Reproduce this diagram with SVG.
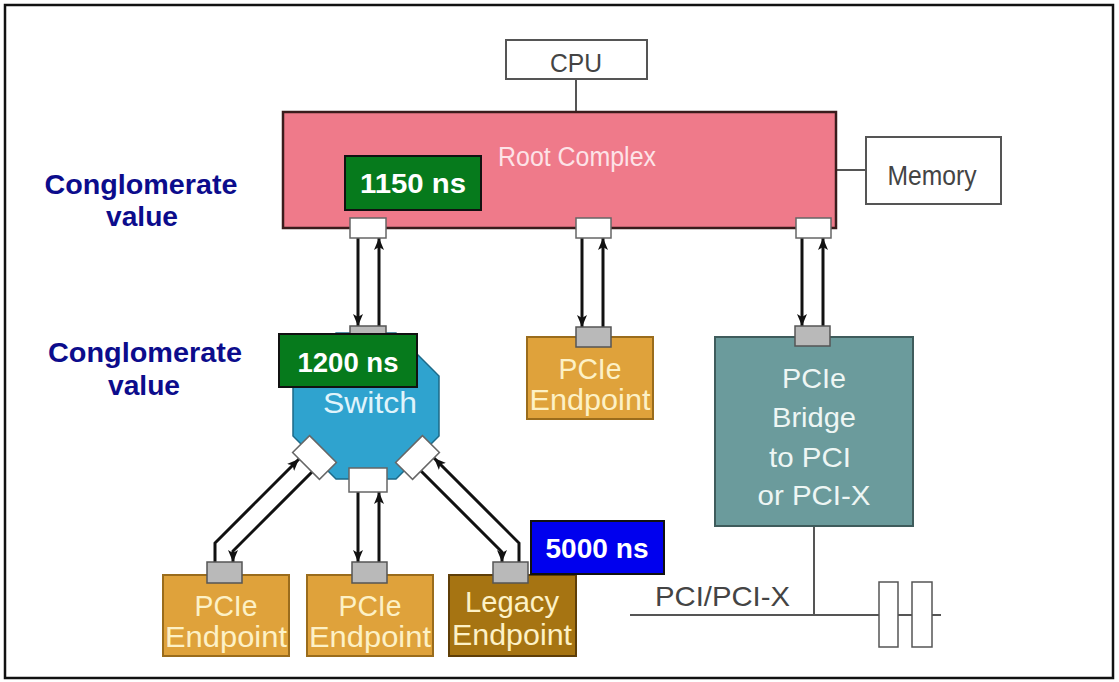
<svg xmlns="http://www.w3.org/2000/svg" width="1119" height="682" viewBox="0 0 1119 682">
<defs>
<marker id="ah" viewBox="0 0 12 10" refX="12" refY="5" markerWidth="12" markerHeight="10" markerUnits="userSpaceOnUse" orient="auto">
<path d="M0,0 L12,5 L0,10 L3,5 z" fill="#111"/>
</marker>
<style>
.t{font-family:"Liberation Sans",Arial,sans-serif;text-anchor:middle}
.b{font-weight:bold}
.box{fill:#fff;stroke:#555;stroke-width:2}
.port{fill:#fff;stroke:#666;stroke-width:1.5}
.gport{fill:#b9b9b9;stroke:#555;stroke-width:1.5}
.ep{fill:#dfa23b;stroke:#9a6c1c;stroke-width:2}
.ept{fill:#fdf1c6;font-size:29px}
.lbl{stroke:#111;stroke-width:2}
.lt{fill:#fff;font-size:28px}
.navy{fill:#0c0c8c;font-size:28px}
.ar{fill:none;stroke:#111;stroke-width:3;marker-end:url(#ah)}
.ln{fill:none;stroke:#555;stroke-width:2}
</style>
</defs>
<rect x="5" y="5" width="1108" height="673" fill="#fff" stroke="#111" stroke-width="2.5"/>

<g id="connectors">
<line class="ln" x1="576" y1="79" x2="576" y2="112"/>
<line class="ln" x1="836" y1="170" x2="866" y2="170"/>
<path class="ar" d="M358,238 V326"/>
<path class="ar" d="M379,326 V238"/>
<path class="ar" d="M582,238 V327"/>
<path class="ar" d="M603,327 V238"/>
<path class="ar" d="M802,238 V326"/>
<path class="ar" d="M823,326 V238"/>
<path class="ar" d="M215,562 V543 L299,459"/>
<path class="ar" d="M312,472 L233,551 V562"/>
<path class="ar" d="M358,492 V562"/>
<path class="ar" d="M379,562 V492"/>
<path class="ar" d="M519,562 V543 L434,458"/>
<path class="ar" d="M421,471 L502,552 V562"/>
<line class="ln" x1="814" y1="526" x2="814" y2="615"/>
<line class="ln" x1="630" y1="615" x2="941" y2="615"/>
</g>

<g id="cpu">
<rect class="box" x="506" y="40" width="141" height="39"/>
<text class="t" x="576" y="72" font-size="26" fill="#444" textLength="52" lengthAdjust="spacingAndGlyphs">CPU</text>
</g>

<g id="memory">
<rect class="box" x="866" y="137" width="135" height="67"/>
<text class="t" x="932" y="185" font-size="28" fill="#444" textLength="89" lengthAdjust="spacingAndGlyphs">Memory</text>
</g>

<g id="root-complex">
<rect x="283" y="112" width="553" height="116" fill="#ef7a8a" stroke="#3a1c1c" stroke-width="2.5"/>
<text class="t" x="577" y="166" font-size="27" fill="#fde3e7" textLength="158" lengthAdjust="spacingAndGlyphs">Root Complex</text>
<rect class="port" x="350" y="218" width="36" height="20"/>
<rect class="port" x="576" y="218" width="35" height="20"/>
<rect class="port" x="796" y="218" width="35" height="20"/>
</g>

<g id="switch">
<polygon points="336,333 396,333 439,376 439,436 396,479 336,479 293,436 293,376" fill="#2fa3cf" stroke="#1d6a88" stroke-width="1.5"/>
<text class="t" x="370" y="413" font-size="29" fill="#e0f4fb" textLength="94" lengthAdjust="spacingAndGlyphs">Switch</text>
<rect class="gport" x="350" y="326" width="36" height="20"/>
<rect class="port" x="349" y="468" width="38" height="24"/>
<rect class="port" x="-19" y="-12" width="38" height="24" transform="translate(314.5,457.5) rotate(45)"/>
<rect class="port" x="-19" y="-12" width="38" height="24" transform="translate(417.5,457.5) rotate(-45)"/>
</g>

<g id="endpoint-top">
<rect class="ep" x="527" y="337" width="126" height="82"/>
<rect class="gport" x="576" y="327" width="35" height="20"/>
<text class="t ept" x="590" y="379" textLength="63" lengthAdjust="spacingAndGlyphs">PCIe</text>
<text class="t ept" x="590" y="410" textLength="121" lengthAdjust="spacingAndGlyphs">Endpoint</text>
</g>

<g id="bridge">
<rect x="715" y="337" width="198" height="189" fill="#6b9b9c" stroke="#3f5c5c" stroke-width="2"/>
<rect class="gport" x="795" y="326" width="35" height="20"/>
<text class="t" x="814" y="388" font-size="28" fill="#eef6f4" textLength="64" lengthAdjust="spacingAndGlyphs">PCIe</text>
<text class="t" x="814" y="427" font-size="28" fill="#eef6f4" textLength="84" lengthAdjust="spacingAndGlyphs">Bridge</text>
<text class="t" x="810" y="467" font-size="28" fill="#eef6f4" textLength="82" lengthAdjust="spacingAndGlyphs">to PCI</text>
<text class="t" x="814" y="505" font-size="28" fill="#eef6f4" textLength="113" lengthAdjust="spacingAndGlyphs">or PCI-X</text>
</g>

<g id="pci-bus">
<text x="655" y="606" font-family="Liberation Sans, Arial, sans-serif" font-size="28" fill="#444" textLength="135" lengthAdjust="spacingAndGlyphs">PCI/PCI-X</text>
<rect x="879" y="582" width="19" height="65" fill="#fff" stroke="#555" stroke-width="1.5"/>
<rect x="912" y="582" width="20" height="65" fill="#fff" stroke="#555" stroke-width="1.5"/>
</g>

<g id="endpoint-1">
<rect class="ep" x="163" y="575" width="126" height="81"/>
<rect class="gport" x="207" y="562" width="35" height="21"/>
<text class="t ept" x="226" y="616" textLength="63" lengthAdjust="spacingAndGlyphs">PCIe</text>
<text class="t ept" x="226" y="647" textLength="122" lengthAdjust="spacingAndGlyphs">Endpoint</text>
</g>

<g id="endpoint-2">
<rect class="ep" x="307" y="575" width="126" height="81"/>
<rect class="gport" x="352" y="562" width="35" height="21"/>
<text class="t ept" x="370" y="616" textLength="63" lengthAdjust="spacingAndGlyphs">PCIe</text>
<text class="t ept" x="370" y="647" textLength="122" lengthAdjust="spacingAndGlyphs">Endpoint</text>
</g>

<g id="legacy-endpoint">
<rect x="449" y="575" width="127" height="81" fill="#a67412" stroke="#5e3e08" stroke-width="2"/>
<rect class="gport" x="493" y="562" width="35" height="21"/>
<text class="t ept" x="512" y="612" textLength="94" lengthAdjust="spacingAndGlyphs">Legacy</text>
<text class="t ept" x="512" y="645" textLength="120" lengthAdjust="spacingAndGlyphs">Endpoint</text>
</g>

<g id="label-1150">
<rect class="lbl" x="345" y="156" width="136" height="54" fill="#067a1c"/>
<text class="t b lt" x="413" y="193" textLength="106" lengthAdjust="spacingAndGlyphs">1150 ns</text>
</g>

<g id="label-1200">
<rect class="lbl" x="279" y="334" width="138" height="53" fill="#067a1c"/>
<text class="t b lt" x="348" y="372" textLength="101" lengthAdjust="spacingAndGlyphs">1200 ns</text>
</g>

<g id="label-5000">
<rect class="lbl" x="531" y="521" width="133" height="53" fill="#0000ee"/>
<text class="t b lt" x="597" y="558" textLength="103" lengthAdjust="spacingAndGlyphs">5000 ns</text>
</g>

<g id="conglomerate-1">
<text class="t b navy" x="141" y="194" textLength="193" lengthAdjust="spacingAndGlyphs">Conglomerate</text>
<text class="t b navy" x="142" y="226" textLength="72" lengthAdjust="spacingAndGlyphs">value</text>
</g>

<g id="conglomerate-2">
<text class="t b navy" x="145" y="362" textLength="194" lengthAdjust="spacingAndGlyphs">Conglomerate</text>
<text class="t b navy" x="144" y="395" textLength="72" lengthAdjust="spacingAndGlyphs">value</text>
</g>
</svg>
